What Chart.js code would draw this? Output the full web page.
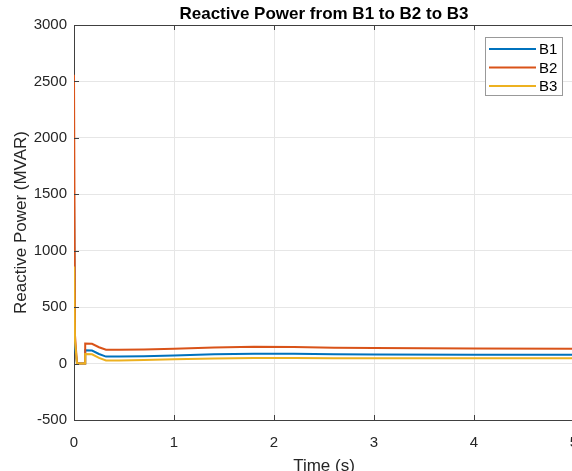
<!DOCTYPE html>
<html>
<head>
<meta charset="utf-8">
<script src="https://cdn.jsdelivr.net/npm/chart.js@4/dist/chart.umd.min.js"></script>
<style>
  html, body { margin: 0; padding: 0; background: #fff; overflow: hidden; }
  canvas { display: block; }
</style>
</head>
<body>
<canvas id="myChart" width="580" height="471"></canvas>
<script>
// time samples (s) and reactive power (MVAR) per bus
var timeS = [0, 0.01, 0.03, 0.11, 0.112, 0.18, 0.25, 0.32, 0.45, 0.7, 1.0, 1.4, 1.8, 2.2, 2.6, 3.0, 4.0, 5.0];
var qB1 = [1500, 150, 0, 0, 118, 115, 85, 62, 62, 65, 72, 82, 87, 86, 82, 80, 79, 79];
var qB2 = [2560, 250, 0, 0, 178, 175, 145, 122, 122, 125, 132, 142, 148, 146, 140, 137, 133, 132];
var qB3 = [860, 200, 0, 0, 85, 82, 50, 27, 28, 32, 38, 46, 50, 50, 48, 47, 47, 47];
var busNames = ['B1', 'B2', 'B3'];
var busColors = ['#0072BD', '#D95319', '#EDB120'];
var xTicks = [0, 1, 2, 3, 4, 5];
var yTicks = [-500, 0, 500, 1000, 1500, 2000, 2500, 3000];
var chartTitle = 'Reactive Power from B1 to B2 to B3';

function toPoints(ys) {
    return timeS.map(function (t, i) { return { x: t, y: ys[i] }; });
}

var FONT = '"Liberation Sans", Arial, Helvetica, sans-serif';
var axisColor = '#404040';

// title over the axes, box round them, inward ticks, legend top right
var matlabFrame = {
    id: 'matlabFrame',
    afterDraw: function (chart) {
        var ctx = chart.ctx;
        var a = chart.chartArea;
        var xs = chart.scales.x, ys = chart.scales.y;
        ctx.save();

        ctx.fillStyle = '#000';
        ctx.font = 'bold 17px ' + FONT;
        ctx.textAlign = 'center';
        ctx.textBaseline = 'middle';
        ctx.fillText(chartTitle, (a.left + a.right) / 2, a.top - 11);

        ctx.strokeStyle = axisColor;
        ctx.lineWidth = 1;
        ctx.beginPath();
        ctx.moveTo(a.left, a.top + 0.5);
        ctx.lineTo(a.right, a.top + 0.5);
        ctx.moveTo(a.right - 0.5, a.top);
        ctx.lineTo(a.right - 0.5, a.bottom);
        xTicks.forEach(function (v) {
            var px = Math.round(xs.getPixelForValue(v)) + 0.5;
            ctx.moveTo(px, a.bottom); ctx.lineTo(px, a.bottom - 5);
            ctx.moveTo(px, a.top); ctx.lineTo(px, a.top + 5);
        });
        yTicks.forEach(function (v) {
            var py = Math.round(ys.getPixelForValue(v)) + 0.5;
            ctx.moveTo(a.left, py); ctx.lineTo(a.left + 5, py);
        });
        ctx.stroke();

        // legend
        var bw = 77, bh = 58;
        var bx = a.right - 12 - bw, by = a.top + 12;
        ctx.fillStyle = '#fff';
        ctx.fillRect(bx, by, bw, bh);
        ctx.strokeStyle = '#999';
        ctx.strokeRect(bx + 0.5, by + 0.5, bw, bh);
        ctx.font = '15px ' + FONT;
        ctx.textBaseline = 'middle';
        ctx.textAlign = 'left';
        chart.data.datasets.forEach(function (ds, i) {
            var ry = by + 12 + i * 18.5;
            ctx.strokeStyle = ds.borderColor;
            ctx.lineWidth = 2;
            ctx.beginPath();
            ctx.moveTo(bx + 4, ry);
            ctx.lineTo(bx + 51, ry);
            ctx.stroke();
            ctx.fillStyle = '#000';
            ctx.fillText(ds.label, bx + 54, ry + 1);
        });
        ctx.restore();
    }
};

var data = {
    datasets: [qB1, qB2, qB3].map(function (q, i) {
        return {
            label: busNames[i],
            data: toPoints(q),
            borderColor: busColors[i],
            backgroundColor: busColors[i],
            borderWidth: 2,
            pointRadius: 0,
            tension: 0,
            order: 3 - i
        };
    })
};

var config = {
    type: 'line',
    data: data,
    options: {
        responsive: false,
        animation: false,
        layout: { padding: { left: 0, right: 6, top: 25, bottom: 0 } },
        plugins: {
            legend: { display: false },
            tooltip: { enabled: false },
            title: { display: false }
        },
        scales: {
            x: {
                type: 'linear',
                min: 0,
                max: 5,
                afterBuildTicks: function (s) { s.ticks = xTicks.map(function (v) { return { value: v }; }); },
                afterFit: function (s) { s.height = 51; s.paddingLeft = 0; s.paddingRight = 0; },
                border: { color: axisColor, width: 1 },
                grid: { color: '#e6e6e6', drawTicks: false },
                ticks: {
                    color: '#262626',
                    font: { family: FONT, size: 15 },
                    padding: 14,
                    maxRotation: 0,
                    callback: function (v) { return String(v); }
                },
                title: {
                    display: true,
                    text: 'Time (s)',
                    color: '#262626',
                    font: { family: FONT, size: 17, lineHeight: 1 },
                    padding: { top: 0, bottom: -3.5 }
                }
            },
            y: {
                type: 'linear',
                min: -500,
                max: 3000,
                afterBuildTicks: function (s) { s.ticks = yTicks.map(function (v) { return { value: v }; }); },
                afterFit: function (s) { s.width = 74; },
                border: { color: axisColor, width: 1 },
                grid: { color: '#e6e6e6', drawTicks: false },
                ticks: {
                    color: '#262626',
                    font: { family: FONT, size: 15 },
                    padding: 7,
                    callback: function (v) { return String(v); }
                },
                title: {
                    display: true,
                    text: 'Reactive Power (MVAR)',
                    color: '#262626',
                    font: { family: FONT, size: 17 },
                    padding: { top: 11, bottom: 0 }
                }
            }
        }
    },
    plugins: [matlabFrame]
};

const myChart = new Chart(document.getElementById('myChart'), config);
</script>
</body>
</html>
